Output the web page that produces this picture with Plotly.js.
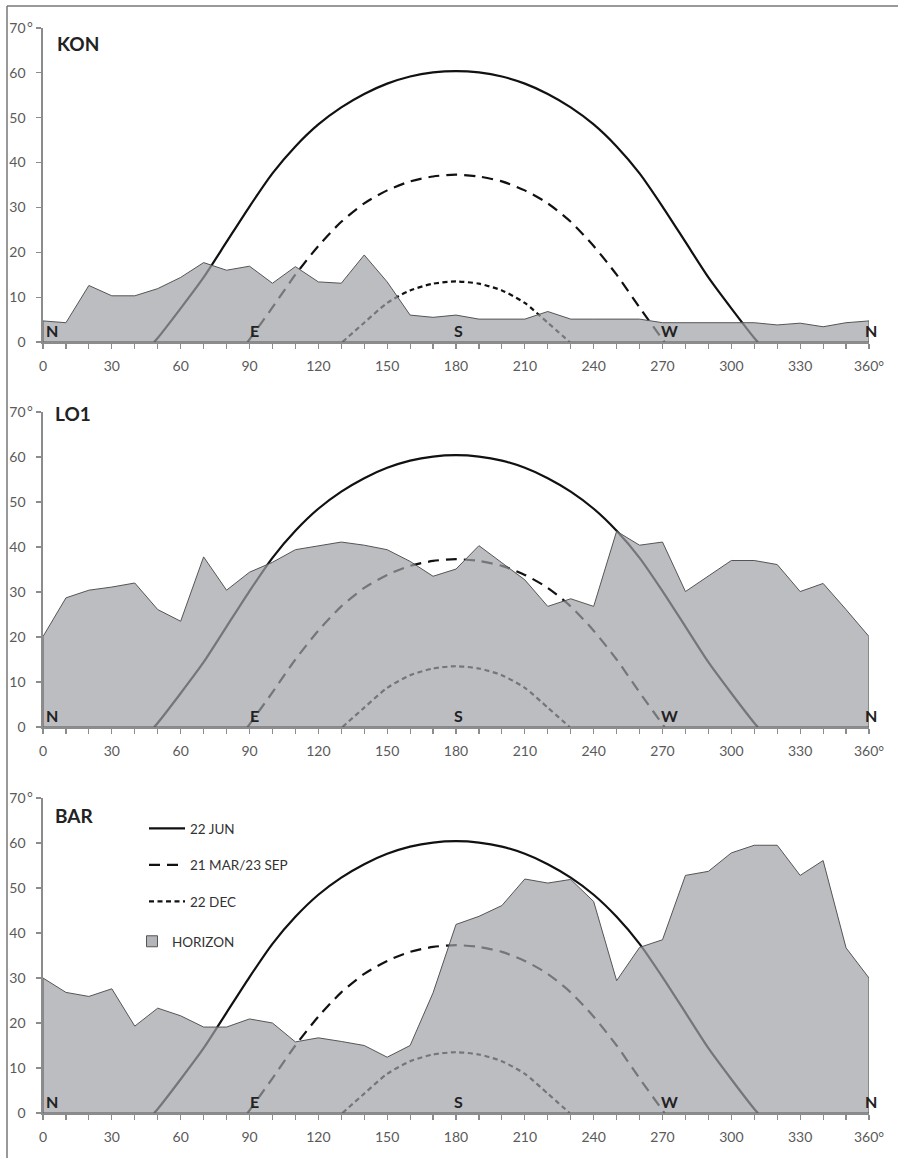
<!DOCTYPE html>
<html>
<head>
<meta charset="utf-8">
<script src="https://cdn.plot.ly/plotly-3.0.1.min.js"></script>
<style>
html,body{margin:0;padding:0;background:#fff;}
#chart{width:898px;height:1158px;}
</style>
</head>
<body>
<div id="chart"></div>
<script>
// ---- Data ----
const azimuths = [0,10,20,30,40,50,60,70,80,90,100,110,120,130,140,150,160,170,180,190,200,210,220,230,240,250,260,270,280,290,300,310,320,330,340,350,360];

const horizonKON = [4.7,4.3,12.6,10.3,10.3,11.9,14.4,17.7,16.0,16.9,13.1,16.8,13.4,13.1,19.4,13.4,6.0,5.5,6.0,5.1,5.1,5.1,6.8,5.1,5.1,5.1,5.1,4.3,4.3,4.3,4.3,4.3,3.8,4.2,3.4,4.3,4.7];
const horizonLO1 = [20.1,28.7,30.4,31.1,32.0,26.1,23.5,37.8,30.4,34.4,36.6,39.4,40.3,41.1,40.4,39.4,36.8,33.5,35.1,40.3,36.5,32.7,26.8,28.5,26.8,43.5,40.4,41.1,30.1,33.5,37.0,37.0,36.1,30.1,31.9,26.1,20.1];
const horizonBAR = [30.0,26.8,25.9,27.6,19.3,23.3,21.6,19.1,19.1,20.9,20.0,15.8,16.7,15.9,15.0,12.4,15.0,26.7,41.9,43.7,46.1,52.0,51.1,51.9,47.0,29.4,36.8,38.5,52.8,53.7,57.8,59.5,59.5,52.8,56.1,36.7,30.0];

const junAz  = [48.4,50,60,70,80,90,100,110,120,130,140,150,160,170,180,190,200,210,220,230,240,250,260,270,280,290,300,310,311.6];
const junAlt = [0,0.9,7.5,14.4,22.3,30.2,37.6,43.6,48.5,52.3,55.3,57.6,59.2,60.1,60.4,60.1,59.2,57.6,55.3,52.3,48.5,43.6,37.6,30.2,22.3,14.4,7.5,0.9,0];

const eqAz  = [89.1,90,100,110,120,130,140,150,160,170,180,190,200,210,220,230,240,250,260,270,270.9];
const eqAlt = [0,0.6,7.7,15.0,21.4,26.8,30.9,33.8,35.8,36.9,37.3,36.9,35.8,33.8,30.9,26.8,21.4,15.0,7.7,0.6,0];

const decAz  = [130.5,140,150,160,170,180,190,200,210,220,229.5];
const decAlt = [0,4.3,8.7,11.5,13.0,13.5,13.0,11.5,8.7,4.3,0];

const siteNames = ["KON","LO1","BAR"];
const seriesNames = ["22 JUN","21 MAR/23 SEP","22 DEC","HORIZON"];

const xTickVals = [0,30,60,90,120,150,180,210,240,270,300,330,360];
const xTickText = ["0","30","60","90","120","150","180","210","240","270","300","330","360°"];
const yTickVals = [0,10,20,30,40,50,60,70];
const yTickText = ["0","10","20","30","40","50","60","70"];

const compassAz = [4, 92, 181, 273, 360];
const compassLabels = ["N","E","S","W","N"];

// ---- Layout helpers ----
const W = 898, H = 1158;
const xDom = [43/W, 869/W];
const yDoms = [
  [1-342/H, 1-28/H],
  [1-727/H, 1-412/H],
  [1-1113/H, 1-798/H]
];
const axisGray = '#8c8c8c';
const FONT = 'Lato, "Open Sans", sans-serif';
const tickFont = {family:FONT, size:14, color:'#5a5a5a'};

const horizons = [horizonKON, horizonLO1, horizonBAR];
const traces = [];
const layout = {
  width: W, height: H, autosize:false,
  margin:{l:0,r:0,t:0,b:0},
  paper_bgcolor:'#fff', plot_bgcolor:'rgba(0,0,0,0)',
  showlegend:true,
  legend:{
    x: 144/W, y: 1-813/H, xanchor:'left', yanchor:'top',
    bgcolor:'rgba(0,0,0,0)', borderwidth:0, itemwidth:36,
    font:{family:FONT, size:13.5, color:'#333'},
    tracegroupgap:16, traceorder:'grouped'
  },
  legend2:{
    x: 132/W, y: 1-926/H, xanchor:'left', yanchor:'top',
    bgcolor:'rgba(0,0,0,0)', borderwidth:0, itemwidth:30,
    font:{family:FONT, size:13.5, color:'#333'}
  },
  annotations:[], shapes:[]
};

for (let p = 0; p < 3; p++) {
  const sfx = p === 0 ? '' : String(p+1);
  const xa = 'x' + sfx, ya = 'y' + sfx;
  const showLeg = (p === 2);
  traces.push({x:junAz, y:junAlt, xaxis:xa, yaxis:ya, type:'scatter', mode:'lines',
    line:{color:'#111', width:2.2, shape:'spline', smoothing:0.7},
    name:seriesNames[0], legendgroup:'g1', showlegend:showLeg, hoverinfo:'skip'});
  traces.push({x:eqAz, y:eqAlt, xaxis:xa, yaxis:ya, type:'scatter', mode:'lines',
    line:{color:'#111', width:2.2, dash:'11px,7px', shape:'spline', smoothing:0.7},
    name:seriesNames[1], legendgroup:'g2', showlegend:showLeg, hoverinfo:'skip'});
  traces.push({x:decAz, y:decAlt, xaxis:xa, yaxis:ya, type:'scatter', mode:'lines',
    line:{color:'#111', width:2.2, dash:'5px,3.5px', shape:'spline', smoothing:0.7},
    name:seriesNames[2], legendgroup:'g3', showlegend:showLeg, hoverinfo:'skip'});
  const hx = [0].concat(azimuths, [360, 0]);
  const hy = [0].concat(horizons[p], [0, 0]);
  traces.push({x:hx, y:hy, xaxis:xa, yaxis:ya, type:'scatter', mode:'lines',
    fill:'toself', fillcolor:'rgba(160,161,166,0.70)',
    line:{color:'#555', width:1},
    name:seriesNames[3], legendgroup:'g4', showlegend:false, hoverinfo:'skip'});
  if (showLeg) {
    // legend-only entry for the horizon (square swatch)
    traces.push({x:[null], y:[null], xaxis:xa, yaxis:ya, type:'scatter', mode:'markers',
      marker:{symbol:'square', size:11, color:'#b4b5b9', line:{color:'#555', width:1}},
      name:seriesNames[3], legend:'legend2', showlegend:true, hoverinfo:'skip'});
  }

  layout['xaxis' + sfx] = {
    domain:xDom, range:[0,360], anchor:ya,
    tickmode:'array', tickvals:xTickVals, ticktext:xTickText,
    ticks:'outside', ticklen:5, tickwidth:1.2, tickcolor:axisGray,
    minor:{tickmode:'linear', tick0:0, dtick:10, ticks:'outside', ticklen:5, tickwidth:1.2, tickcolor:axisGray, showgrid:false},
    showline:true, linecolor:axisGray, linewidth:1.6,
    showgrid:false, zeroline:false, tickfont:tickFont, ticklabelstandoff:6, fixedrange:true
  };
  layout['yaxis' + sfx] = {
    domain:yDoms[p], range:[0,70], anchor:xa,
    tickmode:'array', tickvals:yTickVals, ticktext:yTickText,
    ticks:'outside', ticklen:5, tickwidth:1.2, tickcolor:axisGray,
    showline:true, linecolor:axisGray, linewidth:1.6,
    showgrid:false, zeroline:false, tickfont:tickFont, ticklabelstandoff:8, fixedrange:true
  };

  // degree mark after the top "70" tick label
  layout.annotations.push({x:0, y:70, xref:xa, yref:ya, text:'°', showarrow:false,
    xanchor:'center', yanchor:'middle', xshift:-13, yshift:2,
    font:{family:FONT, size:14, color:'#5a5a5a'}});

  // compass letters
  for (let i = 0; i < compassAz.length; i++) {
    layout.annotations.push({x:compassAz[i], y:0, xref:xa, yref:ya, text:'<b>'+compassLabels[i]+'</b>',
      showarrow:false, xanchor:'center', yanchor:'bottom', yshift:0, xshift:(i === 4 ? 2 : 0),
      font:{family:FONT, size:16, color:'#222'}});
  }
}
// site labels
const siteLabelY = [43, 414, 816];
const siteLabelX = [55, 53, 53];
for (let p = 0; p < 3; p++) {
  layout.annotations.push({x:siteLabelX[p]/W, y:1-siteLabelY[p]/H, xref:'paper', yref:'paper',
    text:'<b>'+siteNames[p]+'</b>', showarrow:false, xanchor:'left', yanchor:'middle',
    font:{family:FONT, size:19, color:'#222'}});
}
// frame lines
layout.shapes.push({type:'line', xref:'paper', yref:'paper', x0:7/W, x1:1, y0:1-6/H, y1:1-6/H, line:{color:'#777', width:1.5}});
layout.shapes.push({type:'line', xref:'paper', yref:'paper', x0:7/W, x1:7/W, y0:0, y1:1-6/H, line:{color:'#777', width:1.5}});

Plotly.newPlot('chart', traces, layout, {staticPlot:true, displayModeBar:false});
</script>
</body>
</html>
